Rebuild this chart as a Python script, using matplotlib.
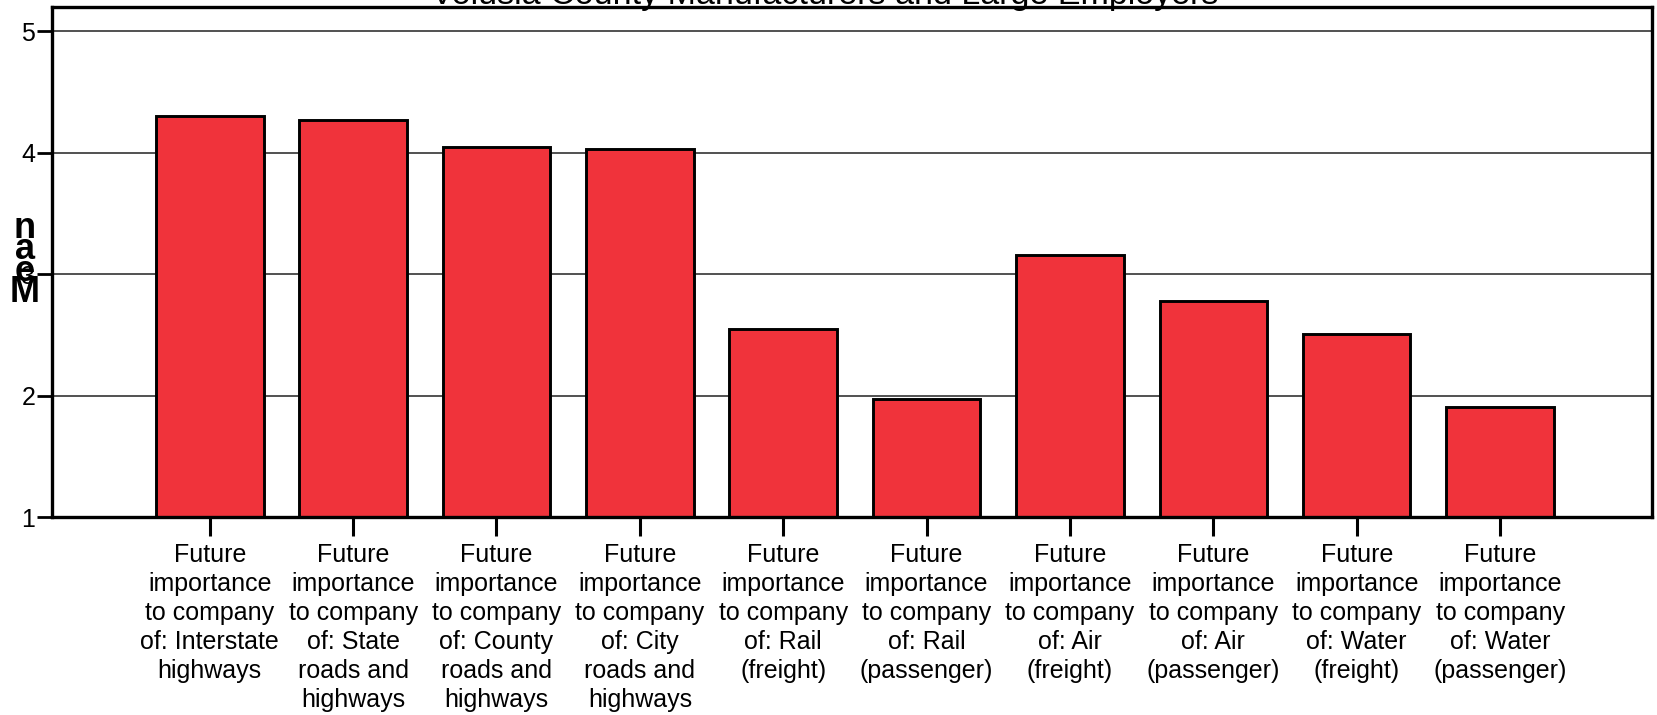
import matplotlib.pyplot as plt

plt.rcParams['font.family'] = ['Liberation Sans', 'DejaVu Sans']

title = 'Volusia County Manufacturers and Large Employers'
labels = [
    'Future\nimportance\nto company\nof: Interstate\nhighways',
    'Future\nimportance\nto company\nof: State\nroads and\nhighways',
    'Future\nimportance\nto company\nof: County\nroads and\nhighways',
    'Future\nimportance\nto company\nof: City\nroads and\nhighways',
    'Future\nimportance\nto company\nof: Rail\n(freight)',
    'Future\nimportance\nto company\nof: Rail\n(passenger)',
    'Future\nimportance\nto company\nof: Air\n(freight)',
    'Future\nimportance\nto company\nof: Air\n(passenger)',
    'Future\nimportance\nto company\nof: Water\n(freight)',
    'Future\nimportance\nto company\nof: Water\n(passenger)',
]
means = [4.30, 4.27, 4.05, 4.03, 2.55, 1.97, 3.16, 2.78, 2.51, 1.91]
yticks = [1, 2, 3, 4, 5]

fig = plt.figure(figsize=(16.58, 7.15), dpi=100)
ax = fig.add_axes([0.0314, 0.2769, 0.9650, 0.7133])

x = list(range(len(means)))
ax.set_axisbelow(True)
ax.yaxis.grid(True, color='#222222', linewidth=1.1)
ax.bar(x, means, width=0.75, color='#f0333b', edgecolor='black', linewidth=2.1)

ax.set_xlim(-1.1, 10.06)
ax.set_ylim(1, 5.2)
ax.set_yticks(yticks)
ax.set_xticks(x)
ax.set_xticklabels(labels, fontsize=18, linespacing=1.26)
ax.tick_params(axis='y', length=11, width=2, labelsize=18, pad=1)
ax.tick_params(axis='x', length=14, width=2.2, pad=5)
for s in ax.spines.values():
    s.set_linewidth(2.4)

fig.text(0.4975, 1 - 4 / 715, title, ha='center', va='baseline', fontsize=24.5)
fig.text(0.015, 0.636, 'n\na\ne\nM', ha='center', va='center', fontsize=26,
         fontweight='bold', linespacing=0.5)

fig.savefig('out.png', dpi=100)
